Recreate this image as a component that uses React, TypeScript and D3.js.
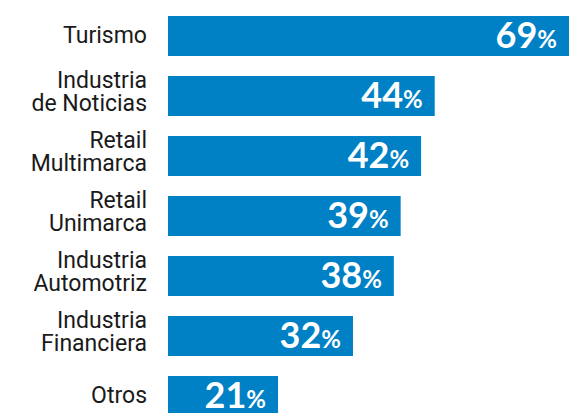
import React from 'react';
import * as d3 from 'd3';

const categories = [
  'Turismo',
  'Industria de Noticias',
  'Retail Multimarca',
  'Retail Unimarca',
  'Industria Automotriz',
  'Industria Financiera',
  'Otros',
];
const values = [69, 44, 42, 39, 38, 32, 21];

const W = 569;
const H = 413;
const barLeft = 168;
const blue = '#0081c6';

const App = () => {
  // bars don't start at zero in the source, so the scale is a bit offset
  const x = d3.scaleLinear().domain([0, 69]).range([135, 605]);
  const y = d3.scaleBand<string>()
    .domain(categories)
    .range([16, 416])
    .paddingInner(1 / 3)
    .paddingOuter(0);

  return (
    <svg width={W} height={H} style={{ position: 'absolute', left: 0, top: 0, background: '#fff' }}>
      {categories.map((c, i) => {
        const y0 = y(c) as number;
        const cy = y0 + y.bandwidth() / 2;
        const xe = x(values[i]);
        const sp = c.indexOf(' ');
        const lines = sp > 0 ? [c.slice(0, sp), c.slice(sp + 1)] : [c];
        return (
          <g key={c}>
            <rect x={barLeft} y={y0} width={xe - barLeft} height={y.bandwidth()} fill={blue} />
            <text
              textAnchor="end"
              fontFamily="Roboto, sans-serif"
              fontSize={23}
              fill="#1a1a1a"
            >
              {lines.map((l, j) => (
                <tspan key={j} x={147} y={lines.length === 1 ? cy + 7 : cy - 8.5 + j * 23.5}>{l}</tspan>
              ))}
            </text>
            <text
              x={Math.min(xe, W) - 12}
              y={cy + 12}
              textAnchor="end"
              fontFamily="Lato, sans-serif"
              fontWeight={700}
              fill="#fff"
            >
              <tspan fontSize={36}>{values[i]}</tspan>
              <tspan fontSize={24}>%</tspan>
            </text>
          </g>
        );
      })}
    </svg>
  );
};

export default App;
